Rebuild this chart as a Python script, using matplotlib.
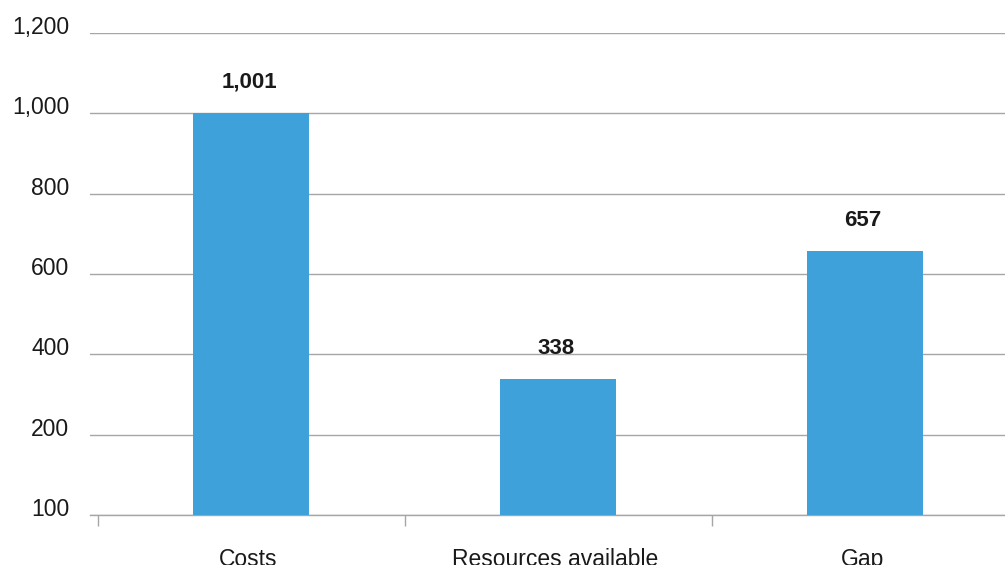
import matplotlib
matplotlib.use("Agg")
import matplotlib.pyplot as plt
import matplotlib.transforms as mtransforms

categories = ["Costs", "Resources available", "Gap"]
values = [1001, 338, 657]
value_labels = ["1,001", "338", "657"]
ytick_values = [0, 200, 400, 600, 800, 1000, 1200]
ytick_labels = ["100", "200", "400", "600", "800", "1,000", "1,200"]

plt.rcParams['font.family'] = ['Liberation Sans', 'DejaVu Sans']

fig = plt.figure(figsize=(10.05, 5.65), dpi=100)
ax = fig.add_axes([90/1005, 50/565, 915/1005, 482/565])

bar_color = "#3fa1d9"
grid_color = "#a6a6a8"
text_color = "#1a1a1a"
x = list(range(len(categories)))
ax.bar(x, values, width=0.378, color=bar_color, zorder=3)

unit = 307.0
ax.set_xlim(-0.5 - 8/unit, 2 + 140/unit)
ax.set_ylim(0, 1200)

ax.set_yticks(ytick_values)
ax.set_yticklabels(ytick_labels, fontsize=16.5, color=text_color, va="baseline")
ax.tick_params(axis="y", length=0, pad=15)
offset = mtransforms.ScaledTranslation(0, -1/100, fig.dpi_scale_trans)
for lbl in ax.get_yticklabels():
    lbl.set_transform(lbl.get_transform() + offset)

ax.yaxis.grid(True, color=grid_color, linewidth=1.0, zorder=0)
ax.set_axisbelow(True)

ax.set_xticks([-0.5, 0.5, 1.5])
ax.set_xticklabels([])
ax.tick_params(axis="x", length=8, width=1, color=grid_color, direction="out")
for i, c in enumerate(categories):
    ax.annotate(c, xy=(i, 0), xytext=(-3, -33), textcoords="offset pixels",
                ha="center", va="top", fontsize=16.5, color=text_color,
                annotation_clip=False)

for s in ["top", "right", "left"]:
    ax.spines[s].set_visible(False)
ax.spines["bottom"].set_color(grid_color)
ax.spines["bottom"].set_linewidth(1.0)

for i, (v, t) in enumerate(zip(values, value_labels)):
    ax.annotate(t, xy=(i, v), xytext=(-2, 25), textcoords="offset pixels",
                ha="center", va="baseline", fontsize=16, fontweight="bold", color=text_color)

fig.savefig("out.png", dpi=100)
